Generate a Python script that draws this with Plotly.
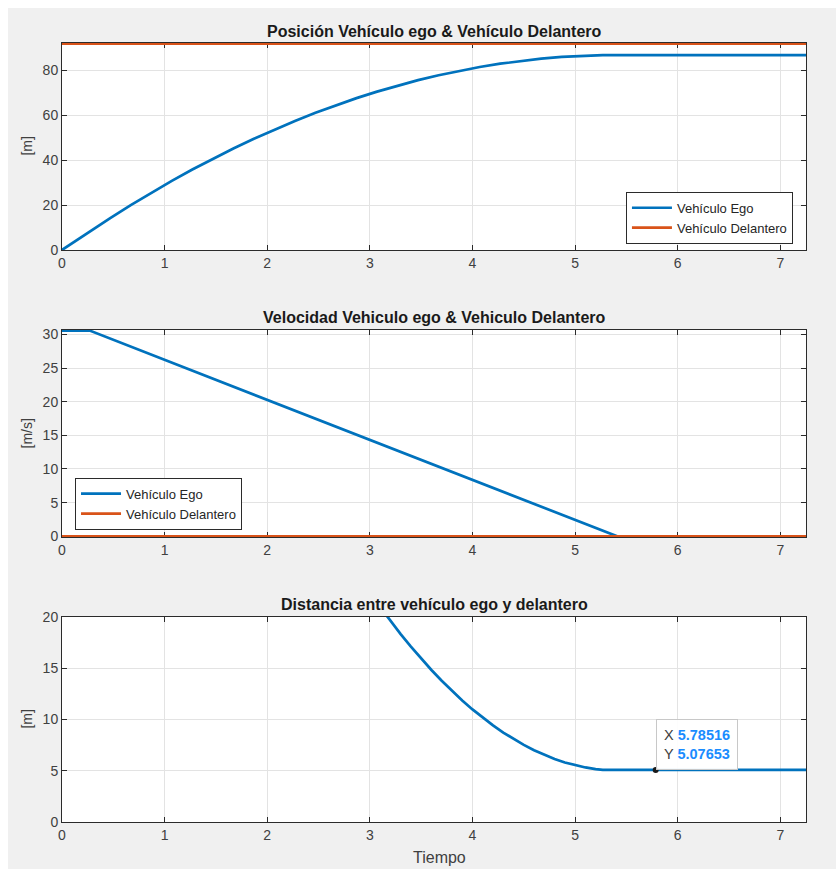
import plotly.graph_objects as go

# ---- data -------------------------------------------------------------
# Position of the ego vehicle [m]
t_pos = [0.0, 0.27, 0.47, 0.67, 0.87, 1.07, 1.27, 1.47, 1.67, 1.87, 2.07,
         2.27, 2.47, 2.67, 2.87, 3.07, 3.27, 3.47, 3.67, 3.87, 4.07, 4.27,
         4.47, 4.67, 4.87, 5.07, 5.27, 7.25]
pos_ego = [0.0, 8.25, 14.25, 20.01, 25.54, 30.82, 35.87, 40.69, 45.26, 49.59,
           53.69, 57.55, 61.17, 64.56, 67.71, 70.62, 73.29, 75.72, 77.91,
           79.87, 81.59, 83.07, 84.32, 85.32, 86.09, 86.63, 86.92, 86.92]
# Position of the lead (stopped) vehicle [m]
t_lead = [0.0, 7.25]
pos_lead = [92.0, 92.0]

# Velocities [m/s]
t_vel = [0.0, 0.27, 5.41, 7.25]
vel_ego = [30.556, 30.556, 0.0, 0.0]
vel_lead = [0.0, 0.0]

# Gap between both vehicles [m]
t_gap = [3.1, 3.2, 3.3, 3.4, 3.5, 3.6, 3.7, 3.8, 3.9, 4.0, 4.1, 4.2, 4.3,
         4.4, 4.5, 4.6, 4.7, 4.8, 4.9, 5.0, 5.1, 5.2, 5.27, 5.78516, 7.25]
gap = [20.97, 19.62, 18.33, 17.11, 15.94, 14.83, 13.78, 12.79, 11.86, 10.98,
       10.17, 9.42, 8.72, 8.09, 7.52, 7.00, 6.54, 6.15, 5.81, 5.53, 5.32,
       5.16, 5.08, 5.07653, 5.07653]

# Data tip on the gap curve
tip_x = 5.78516
tip_y = 5.07653

x_ticks = [0, 1, 2, 3, 4, 5, 6, 7]

# ---- styling ----------------------------------------------------------
BLUE = "#0072BD"
ORANGE = "#D95319"
FONT = "Liberation Sans, Arial, Helvetica, sans-serif"
TXT = "#404040"
GRID = "#e3e3e3"
AX = "#2b2b2b"
LW = 2.7
BG = "#f0f0f0"

fig = go.Figure()

fig.add_trace(go.Scatter(x=t_pos, y=pos_ego, mode="lines", name="Vehículo Ego",
                         line=dict(color=BLUE, width=LW), xaxis="x", yaxis="y",
                         legend="legend"))
fig.add_trace(go.Scatter(x=t_lead, y=pos_lead, mode="lines", name="Vehículo Delantero",
                         line=dict(color=ORANGE, width=LW), xaxis="x", yaxis="y",
                         legend="legend"))

fig.add_trace(go.Scatter(x=t_vel, y=vel_ego, mode="lines", name="Vehículo Ego",
                         line=dict(color=BLUE, width=LW), xaxis="x2", yaxis="y2",
                         legend="legend2"))
fig.add_trace(go.Scatter(x=t_lead, y=vel_lead, mode="lines", name="Vehículo Delantero",
                         line=dict(color=ORANGE, width=LW), xaxis="x2", yaxis="y2",
                         legend="legend2"))

fig.add_trace(go.Scatter(x=t_gap, y=gap, mode="lines", showlegend=False,
                         line=dict(color=BLUE, width=LW), xaxis="x3", yaxis="y3"))
fig.add_trace(go.Scatter(x=[tip_x], y=[tip_y], mode="markers", showlegend=False,
                         marker=dict(color="#1a1a1a", size=6), cliponaxis=False,
                         xaxis="x3", yaxis="y3"))


def xax(anchor):
    return dict(domain=[0, 1], anchor=anchor, range=[0, 7.25], tickvals=x_ticks,
                showgrid=True, gridcolor=GRID, gridwidth=1, zeroline=False,
                showline=True, linecolor=AX, linewidth=1, mirror="ticks",
                ticks="inside", ticklen=5, tickcolor=AX, layer="below traces",
                tickfont=dict(family=FONT, size=14, color=TXT))


def yax(anchor, dom, rng, dtick):
    return dict(domain=dom, anchor=anchor, range=rng, dtick=dtick, tick0=0,
                showgrid=True, gridcolor=GRID, gridwidth=1, zeroline=False,
                showline=True, linecolor=AX, linewidth=1, mirror="ticks",
                ticks="inside", ticklen=5, tickcolor=AX, layer="below traces",
                tickfont=dict(family=FONT, size=14, color=TXT))


legend_style = dict(bgcolor="white", bordercolor=AX, borderwidth=1,
                    font=dict(family=FONT, size=13, color="#262626"),
                    xanchor="left", yanchor="top", tracegroupgap=0,
                    itemwidth=40)

annotations = []
titles = [("Posición Vehículo ego & Vehículo Delantero", 1.0154),
          ("Velocidad Vehiculo ego & Vehiculo Delantero", 0.647),
          ("Distancia entre vehículo ego y delantero", 0.2798)]
for txt, yy in titles:
    annotations.append(dict(text="<b>%s</b>" % txt, x=0.5, y=yy, xref="paper",
                            yref="paper", showarrow=False, xanchor="center",
                            yanchor="middle",
                            font=dict(family=FONT, size=16, color="#1a1a1a")))

ylabels = [("[m]", (1 + 0.7343) / 2), ("[m/s]", (0.3659 + 0.6316) / 2),
           ("[m]", 0.2632 / 2)]
for txt, yy in ylabels:
    annotations.append(dict(text=txt, x=-0.047, y=yy, xref="paper", yref="paper",
                            showarrow=False, textangle=-90, xanchor="center",
                            yanchor="middle",
                            font=dict(family=FONT, size=14, color=TXT)))

annotations.append(dict(text="Tiempo", x=0.507, y=-0.046, xref="paper",
                        yref="paper", showarrow=False, xanchor="center",
                        yanchor="middle",
                        font=dict(family=FONT, size=16, color=TXT)))

annotations.append(dict(
    text=("X <b><span style='color:#1a8cff'>%s</span></b><br>"
          "Y <b><span style='color:#1a8cff'>%s</span></b>") % (tip_x, tip_y),
    x=tip_x, y=tip_y, xref="x3", yref="y3", showarrow=False,
    xanchor="left", yanchor="bottom", align="left",
    bgcolor="rgba(255,255,255,0.92)", bordercolor="#c8c8c8", borderwidth=1,
    borderpad=7, font=dict(family=FONT, size=14.5, color="#404040")))

fig.update_layout(
    width=836, height=869,
    margin=dict(l=62, r=30, t=43, b=47),
    paper_bgcolor=BG, plot_bgcolor="white",
    font=dict(family=FONT, color=TXT),
    xaxis=xax("y"),
    yaxis=yax("x", [0.7343, 1.0], [0, 92.3], 20),
    xaxis2=xax("y2"),
    yaxis2=yax("x2", [0.3659, 0.6316], [-0.1, 30.65], 5),
    xaxis3=xax("y3"),
    yaxis3=yax("x3", [0.0, 0.2632], [0, 20], 5),
    legend=dict(x=0.758, y=0.809, **legend_style),
    legend2=dict(x=0.0175, y=0.442, **legend_style),
    annotations=annotations,
    # thin white frame around the grey figure window
    shapes=[dict(type="rect", xref="paper", yref="paper", x0=-0.2, x1=-0.0726,
                 y0=-0.2, y1=1.2, fillcolor="white", line=dict(width=0)),
            dict(type="rect", xref="paper", yref="paper", x0=-0.2, x1=1.2,
                 y0=1.0449, y1=1.2, fillcolor="white", line=dict(width=0))],
)

fig.write_html("out.html")
